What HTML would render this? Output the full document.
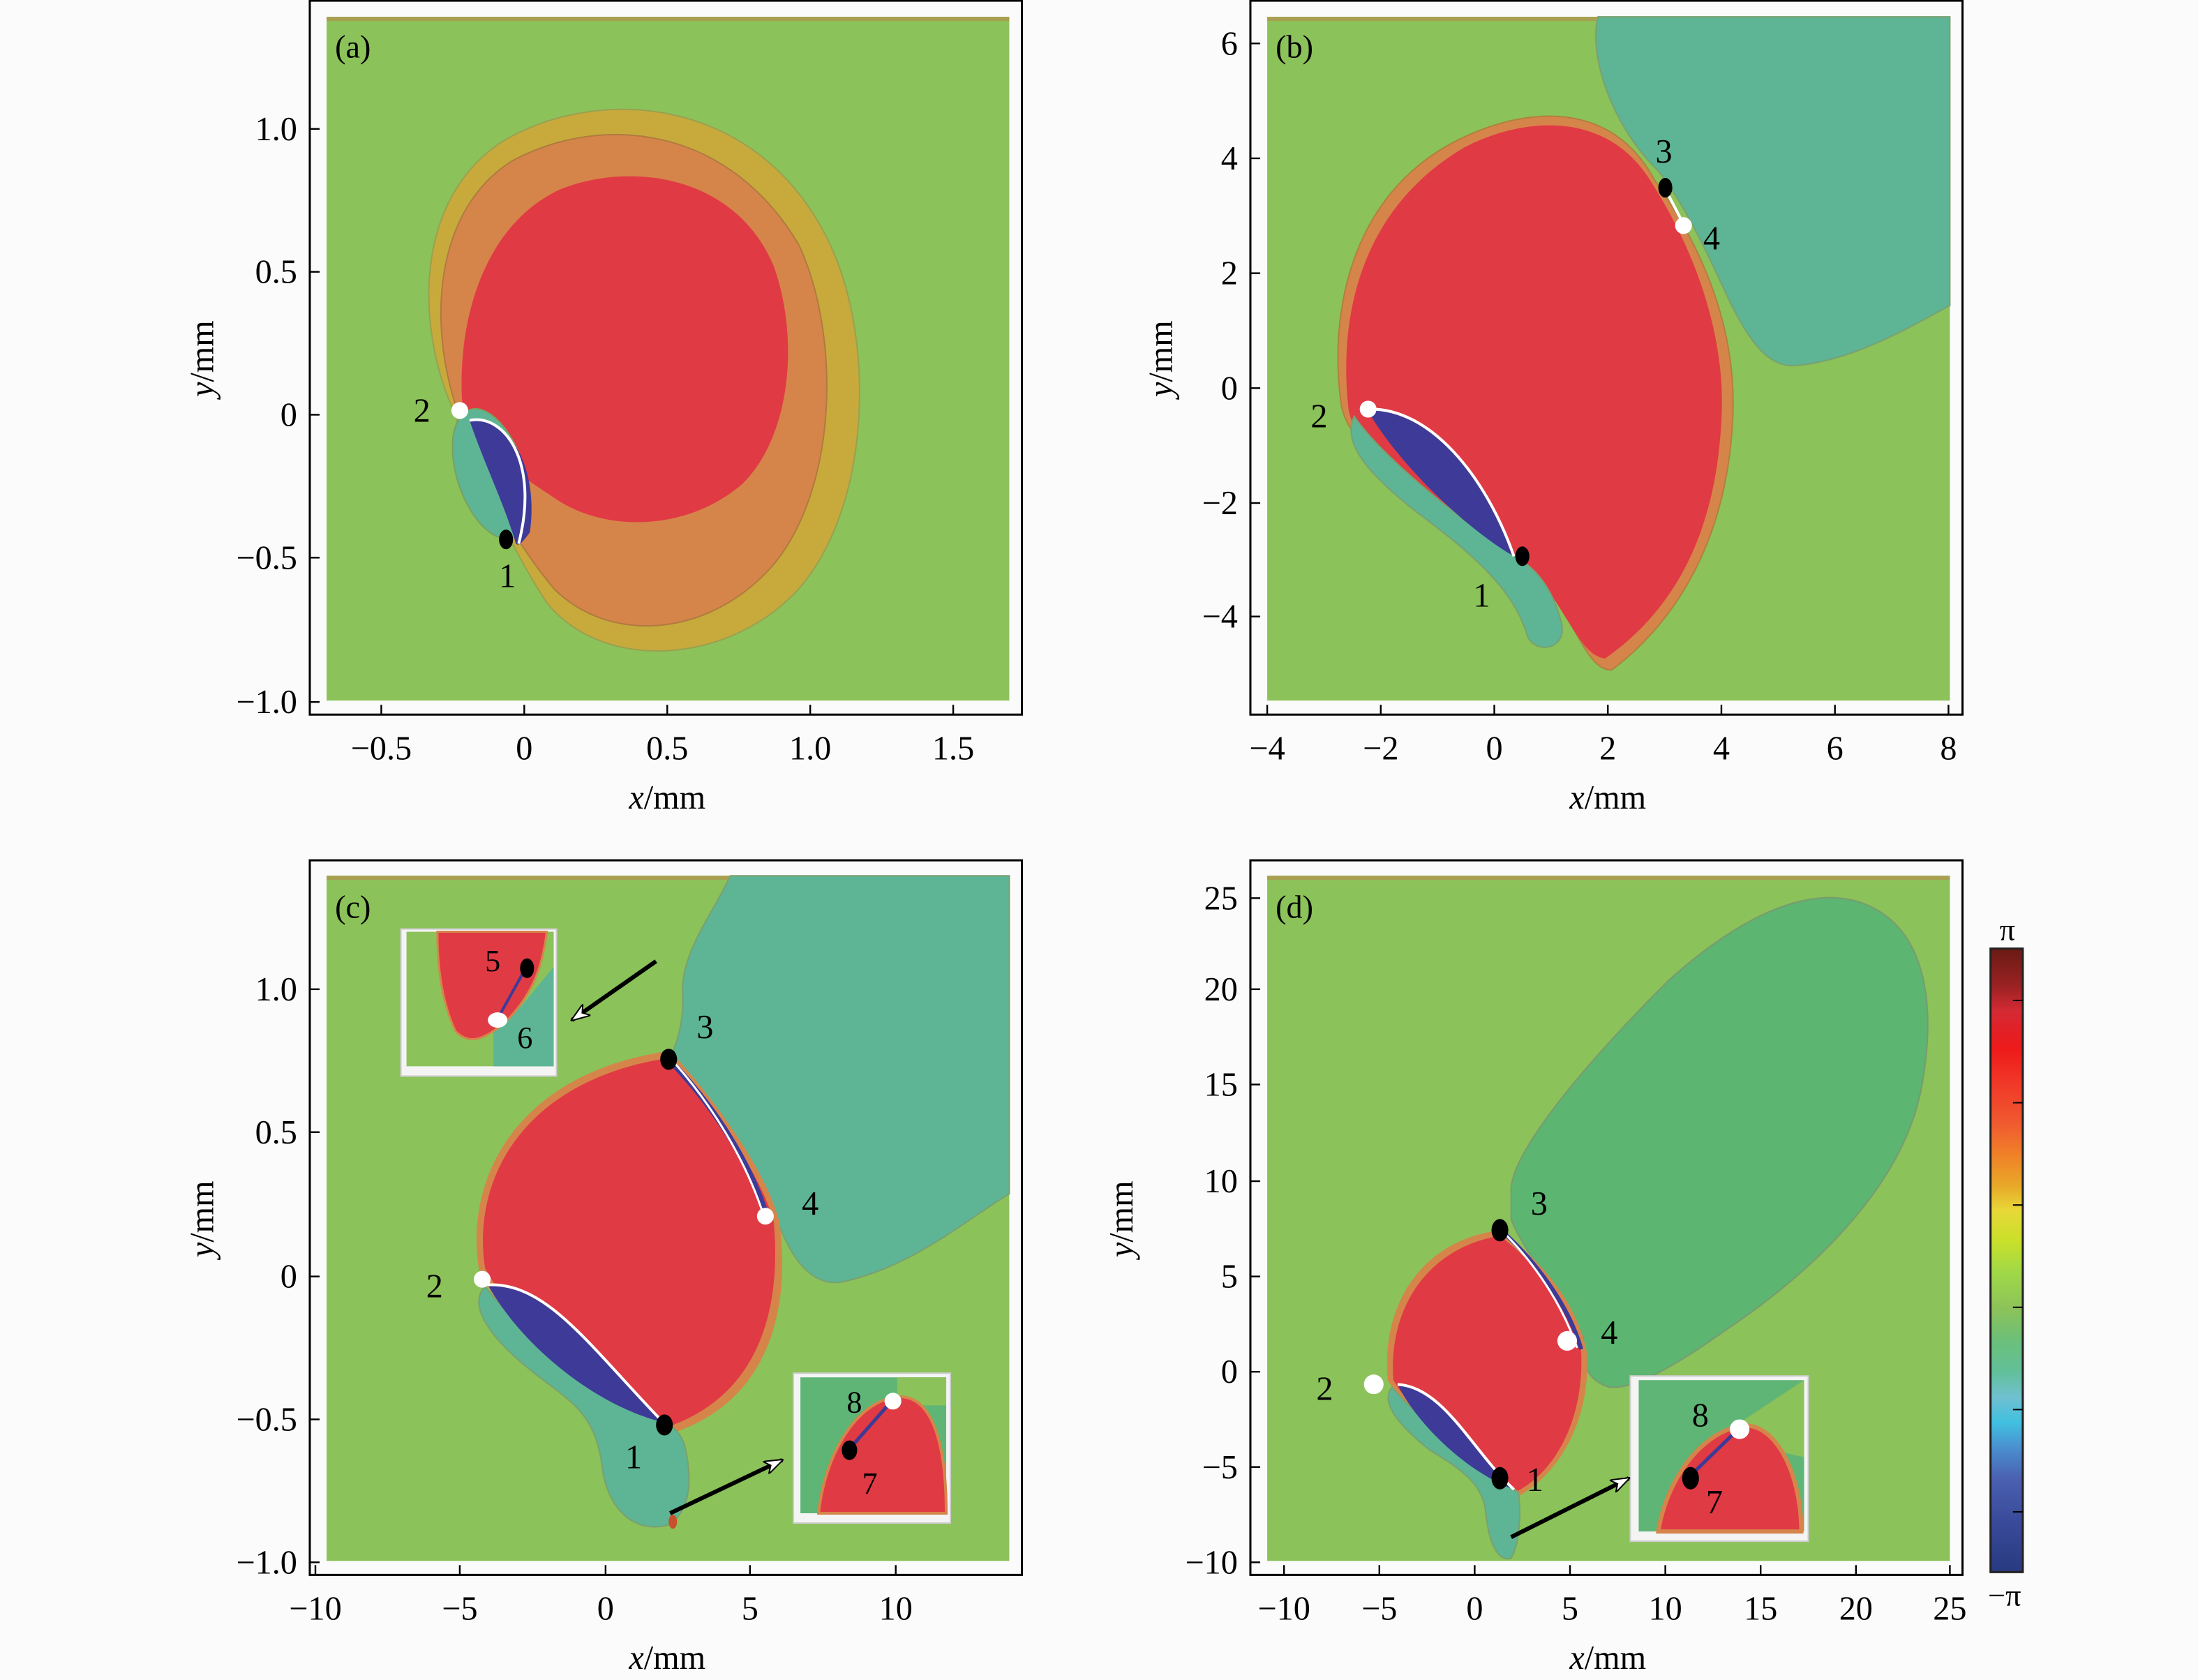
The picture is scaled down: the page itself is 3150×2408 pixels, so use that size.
<!DOCTYPE html>
<html><head><meta charset="utf-8"><style>html,body{margin:0;padding:0;background:#fff}svg{display:block}</style></head>
<body>
<svg width="3150" height="2408" viewBox="0 0 1568 1199" preserveAspectRatio="none" xmlns="http://www.w3.org/2000/svg" font-family="'Liberation Serif', serif">
<rect width="1568" height="1199" fill="#fbfbfb"/>
<defs>
<marker id="ah" markerWidth="14" markerHeight="10" refX="13" refY="5" orient="auto" markerUnits="userSpaceOnUse"><path d="M0,0 L14,5 L0,10 L4,5 Z" fill="#fff" stroke="#000" stroke-width="1"/></marker>
</defs>

<!-- ===== Panel (a) ===== -->
<rect x="233" y="12" width="487" height="488" fill="#8bc25a"/>
<rect x="233" y="12" width="487" height="3" fill="#a8a050"/>
<path d="M323,292 C296,230 296,140 360,100 C430,60 540,70 590,170 C625,240 622,360 570,420 C520,475 430,480 390,430 C370,400 340,340 323,292 Z" fill="#c8aa3c" stroke="#9aa050" stroke-width="1"/>
<path d="M326,292 C305,230 310,150 365,115 C430,80 520,90 570,175 C600,240 598,350 550,405 C505,455 435,460 395,420 C370,390 340,340 326,292 Z" fill="#d6854a" stroke="#b07a40" stroke-width="1"/>
<path d="M330,292 C325,230 345,160 400,135 C450,115 525,125 552,190 C570,240 565,310 530,345 C490,380 430,380 395,355 C365,335 340,320 330,292 Z" fill="#e03a44"/>
<ellipse cx="350" cy="338" rx="24" ry="48" transform="rotate(-18 350 338)" fill="#5db595" stroke="#7aa060" stroke-width="1"/>
<path d="M335,300 C360,295 385,330 378,380 C372,388 370,390 368,388 C360,360 345,330 335,300 Z" fill="#3d3a98"/>
<path d="M335,300 C360,295 385,330 370,388" fill="none" stroke="#fff" stroke-width="2"/>
<circle cx="328" cy="293" r="6" fill="#fff"/>
<ellipse cx="361" cy="385" rx="5" ry="7" fill="#000"/>
<text x="295" y="301" font-size="24">2</text>
<text x="356" y="419" font-size="24">1</text>
<text x="239" y="41" font-size="23">(a)</text>
<rect x="221" y="0.5" width="508" height="509.5" fill="none" stroke="#000" stroke-width="1.5"/>
<g stroke="#000" stroke-width="1.2">
<line x1="272" y1="510" x2="272" y2="503"/><line x1="374" y1="510" x2="374" y2="503"/><line x1="476" y1="510" x2="476" y2="503"/><line x1="578" y1="510" x2="578" y2="503"/><line x1="680" y1="510" x2="680" y2="503"/>
<line x1="221" y1="92" x2="228" y2="92"/><line x1="221" y1="194" x2="228" y2="194"/><line x1="221" y1="296" x2="228" y2="296"/><line x1="221" y1="398" x2="228" y2="398"/><line x1="221" y1="501" x2="228" y2="501"/>
</g>
<g font-size="24" text-anchor="middle">
<text x="272" y="542">−0.5</text><text x="374" y="542">0</text><text x="476" y="542">0.5</text><text x="578" y="542">1.0</text><text x="680" y="542">1.5</text>
<text x="476" y="577"><tspan font-style="italic">x</tspan>/mm</text>
</g>
<g font-size="24" text-anchor="end">
<text x="212" y="100">1.0</text><text x="212" y="202">0.5</text><text x="212" y="304">0</text><text x="212" y="406">−0.5</text><text x="212" y="509">−1.0</text>
</g>
<text transform="translate(152 256) rotate(-90)" font-size="24" text-anchor="middle"><tspan font-style="italic">y</tspan>/mm</text>

<!-- ===== Panel (b) ===== -->
<rect x="904" y="12" width="487" height="488" fill="#8bc25a"/>
<rect x="904" y="12" width="487" height="3" fill="#a8a050"/>
<path d="M1140,12 C1133,40 1150,90 1183,122 C1205,150 1222,190 1232,211 C1248,245 1262,262 1280,261 C1320,258 1360,235 1391,218 L1391,12 Z" fill="#5db595" stroke="#7aa070" stroke-width="1"/>
<path d="M957,290 C948,230 960,140 1040,100 C1090,75 1150,72 1180,128 C1210,170 1240,230 1236,300 C1232,380 1200,440 1150,478 C1130,480 1120,430 1090,400 C1040,370 965,330 957,290 Z" fill="#d6854a" stroke="#b08040" stroke-width="1"/>
<path d="M962,292 C955,230 968,150 1045,105 C1090,82 1148,80 1178,130 C1205,172 1232,235 1228,300 C1224,380 1195,435 1145,470 C1125,468 1115,425 1085,400 C1040,370 968,330 962,292 Z" fill="#e03a44"/>
<path d="M966,297 C958,315 972,335 1010,365 C1050,395 1080,420 1090,455 C1098,468 1118,462 1114,445 C1108,420 1095,405 1082,398 C1040,370 985,325 966,297 Z" fill="#5db595" stroke="#7aa070" stroke-width="1"/>
<path d="M975,292 C1020,290 1060,340 1080,397 C1050,380 1000,335 975,292 Z" fill="#3d3a98"/>
<path d="M975,292 C1020,290 1060,340 1080,397" fill="none" stroke="#fff" stroke-width="2"/>
<line x1="1188" y1="135" x2="1201" y2="160" stroke="#fff" stroke-width="2"/>
<circle cx="976" cy="292" r="6" fill="#fff"/>
<ellipse cx="1086" cy="397" rx="5" ry="7" fill="#000"/>
<ellipse cx="1188" cy="134" rx="5" ry="7" fill="#000"/>
<circle cx="1201" cy="161" r="6" fill="#fff"/>
<text x="935" y="305" font-size="24">2</text>
<text x="1051" y="433" font-size="24">1</text>
<text x="1181" y="116" font-size="24">3</text>
<text x="1215" y="178" font-size="24">4</text>
<text x="910" y="41" font-size="23">(b)</text>
<rect x="892" y="0.5" width="508" height="509.5" fill="none" stroke="#000" stroke-width="1.5"/>
<g stroke="#000" stroke-width="1.2">
<line x1="904" y1="510" x2="904" y2="503"/><line x1="985" y1="510" x2="985" y2="503"/><line x1="1066" y1="510" x2="1066" y2="503"/><line x1="1147" y1="510" x2="1147" y2="503"/><line x1="1228" y1="510" x2="1228" y2="503"/><line x1="1309" y1="510" x2="1309" y2="503"/><line x1="1390" y1="510" x2="1390" y2="503"/>
<line x1="892" y1="31" x2="899" y2="31"/><line x1="892" y1="113" x2="899" y2="113"/><line x1="892" y1="195" x2="899" y2="195"/><line x1="892" y1="277" x2="899" y2="277"/><line x1="892" y1="359" x2="899" y2="359"/><line x1="892" y1="440" x2="899" y2="440"/>
</g>
<g font-size="24" text-anchor="middle">
<text x="904" y="542">−4</text><text x="985" y="542">−2</text><text x="1066" y="542">0</text><text x="1147" y="542">2</text><text x="1228" y="542">4</text><text x="1309" y="542">6</text><text x="1390" y="542">8</text>
<text x="1147" y="577"><tspan font-style="italic">x</tspan>/mm</text>
</g>
<g font-size="24" text-anchor="end">
<text x="883" y="39">6</text><text x="883" y="121">4</text><text x="883" y="203">2</text><text x="883" y="285">0</text><text x="883" y="367">−2</text><text x="883" y="448">−4</text>
</g>
<text transform="translate(836 256) rotate(-90)" font-size="24" text-anchor="middle"><tspan font-style="italic">y</tspan>/mm</text>

<!-- ===== Panel (c) ===== -->
<rect x="233" y="625" width="487" height="489" fill="#8bc25a"/>
<rect x="233" y="625" width="487" height="3" fill="#a8a050"/>
<path d="M521,625 C510,650 485,680 487,710 C488,735 480,750 478,755 C510,790 545,840 555,872 C565,900 580,918 600,915 C650,905 690,870 720,852 L720,625 Z" fill="#5db595" stroke="#7aa070" stroke-width="1"/>
<path d="M342,908 C330,840 370,765 478,750 C515,790 548,840 556,872 C565,940 545,1000 482,1022 C430,1005 370,960 342,908 Z" fill="#d6854a"/>
<path d="M346,905 C336,840 375,770 478,755 C515,795 545,845 552,872 C558,940 538,995 480,1017 C430,1000 375,958 346,905 Z" fill="#e03a44"/>
<path d="M346,918 C335,930 345,950 375,975 C405,1000 425,1005 430,1050 C435,1080 455,1095 478,1088 C495,1075 493,1050 488,1030 C484,1020 478,1017 470,1012 C420,990 370,950 346,918 Z" fill="#5db595" stroke="#7aa070" stroke-width="1"/>
<path d="M348,917 C390,915 420,960 473,1015 C430,1005 375,965 348,917 Z" fill="#3d3a98"/>
<path d="M348,917 C390,915 420,960 473,1015" fill="none" stroke="#fff" stroke-width="2"/>
<path d="M478,757 C510,790 535,830 547,868" fill="none" stroke="#3d3a98" stroke-width="4"/>
<path d="M478,755 C508,788 532,828 545,868" fill="none" stroke="#fff" stroke-width="1.5"/>
<circle cx="344" cy="913" r="6" fill="#fff"/>
<ellipse cx="474" cy="1017" rx="6" ry="7.5" fill="#000"/>
<ellipse cx="477" cy="756" rx="6" ry="7.5" fill="#000"/>
<circle cx="546" cy="868" r="6" fill="#fff"/>
<ellipse cx="480" cy="1086" rx="3" ry="5" fill="#c8502a"/>
<text x="304" y="926" font-size="24">2</text>
<text x="446" y="1048" font-size="24">1</text>
<text x="497" y="741" font-size="24">3</text>
<text x="572" y="867" font-size="24">4</text>
<text x="239" y="655" font-size="23">(c)</text>
<!-- inset upper -->
<rect x="286" y="663" width="111" height="105" fill="#f4f4f4"/>
<rect x="290" y="665" width="105" height="96" fill="#8bc25a"/>
<path d="M395,690 L372,718 L352,730 L352,761 L395,761 Z" fill="#5db595"/>
<path d="M312,665 L390,665 C387,690 380,710 360,730 C345,742 335,746 325,736 C315,715 312,690 312,665 Z" fill="#e03a44" stroke="#d6854a" stroke-width="1.5"/>
<line x1="355" y1="727" x2="375" y2="691" stroke="#3d3a98" stroke-width="2"/>
<ellipse cx="376" cy="691" rx="5" ry="7" fill="#000"/>
<ellipse cx="355" cy="728" rx="7" ry="5.5" fill="#fff"/>
<text x="346" y="693" font-size="22">5</text>
<text x="369" y="748" font-size="22">6</text>
<rect x="286" y="663" width="111" height="105" fill="none" stroke="#ccc" stroke-width="1"/>
<line x1="468" y1="686" x2="408" y2="728" stroke="#000" stroke-width="3" marker-end="url(#ah)"/>
<!-- inset lower -->
<rect x="566" y="980" width="112" height="107" fill="#f4f4f4"/>
<rect x="571" y="983" width="104" height="97" fill="#5fb575"/>
<rect x="640" y="983" width="35" height="20" fill="#8bc25a"/>
<path d="M584,1080 C588,1040 610,1000 640,997 C665,995 675,1030 675,1080 Z" fill="#e03a44" stroke="#d6854a" stroke-width="2"/>
<line x1="606" y1="1034" x2="636" y2="1000" stroke="#3d3a98" stroke-width="2.5"/>
<ellipse cx="606" cy="1035" rx="5.5" ry="7" fill="#000"/>
<ellipse cx="637" cy="1000" rx="6" ry="6" fill="#fff"/>
<text x="604" y="1008" font-size="22">8</text>
<text x="615" y="1066" font-size="22">7</text>
<rect x="566" y="980" width="112" height="107" fill="none" stroke="#ccc" stroke-width="1"/>
<line x1="478" y1="1080" x2="558" y2="1042" stroke="#000" stroke-width="3" marker-end="url(#ah)"/>
<rect x="221" y="614" width="508" height="510" fill="none" stroke="#000" stroke-width="1.5"/>
<g stroke="#000" stroke-width="1.2">
<line x1="225" y1="1124" x2="225" y2="1117"/><line x1="328" y1="1124" x2="328" y2="1117"/><line x1="432" y1="1124" x2="432" y2="1117"/><line x1="535" y1="1124" x2="535" y2="1117"/><line x1="639" y1="1124" x2="639" y2="1117"/>
<line x1="221" y1="706" x2="228" y2="706"/><line x1="221" y1="808" x2="228" y2="808"/><line x1="221" y1="911" x2="228" y2="911"/><line x1="221" y1="1013" x2="228" y2="1013"/><line x1="221" y1="1115" x2="228" y2="1115"/>
</g>
<g font-size="24" text-anchor="middle">
<text x="225" y="1156">−10</text><text x="328" y="1156">−5</text><text x="432" y="1156">0</text><text x="535" y="1156">5</text><text x="639" y="1156">10</text>
<text x="476" y="1191"><tspan font-style="italic">x</tspan>/mm</text>
</g>
<g font-size="24" text-anchor="end">
<text x="212" y="714">1.0</text><text x="212" y="816">0.5</text><text x="212" y="919">0</text><text x="212" y="1021">−0.5</text><text x="212" y="1123">−1.0</text>
</g>
<text transform="translate(152 870) rotate(-90)" font-size="24" text-anchor="middle"><tspan font-style="italic">y</tspan>/mm</text>

<!-- ===== Panel (d) ===== -->
<rect x="904" y="625" width="487" height="489" fill="#8bc25a"/>
<rect x="904" y="625" width="487" height="3" fill="#a8a050"/>
<path d="M1078,848 C1080,820 1130,760 1190,700 C1240,655 1290,630 1330,645 C1380,665 1380,730 1370,780 C1355,850 1290,910 1230,950 C1195,975 1165,992 1148,990 C1130,985 1125,965 1130,955 C1110,920 1085,890 1078,870 Z" fill="#5cb570" stroke="#7a9a70" stroke-width="1"/>
<path d="M990,985 C985,930 1015,885 1070,878 C1100,900 1125,930 1132,965 C1135,1010 1115,1050 1083,1068 C1050,1045 1005,1010 990,985 Z" fill="#d6854a"/>
<path d="M994,985 C990,932 1020,890 1070,882 C1100,905 1122,935 1128,965 C1130,1010 1112,1048 1083,1064 C1050,1042 1008,1010 994,985 Z" fill="#e03a44"/>
<path d="M993,990 C985,1000 995,1015 1020,1035 C1045,1050 1058,1060 1060,1080 C1062,1100 1068,1115 1078,1112 C1085,1100 1085,1075 1083,1065 C1050,1045 1010,1010 993,990 Z" fill="#5db595" stroke="#7aa070" stroke-width="1"/>
<path d="M997,988 C1030,990 1050,1035 1080,1063 C1045,1050 1010,1015 997,988 Z" fill="#3d3a98"/>
<path d="M997,988 C1030,990 1050,1035 1080,1063" fill="none" stroke="#fff" stroke-width="2"/>
<path d="M1073,880 C1100,905 1120,935 1128,963" fill="none" stroke="#3d3a98" stroke-width="3"/>
<path d="M1073,880 C1098,905 1116,935 1125,962" fill="none" stroke="#fff" stroke-width="1.5"/>
<ellipse cx="1070" cy="878" rx="6" ry="8" fill="#000"/>
<circle cx="1118" cy="957" r="7" fill="#fff"/>
<circle cx="980" cy="988" r="7" fill="#fff"/>
<ellipse cx="1070" cy="1055" rx="6" ry="8" fill="#000"/>
<text x="939" y="999" font-size="24">2</text>
<text x="1089" y="1064" font-size="24">1</text>
<text x="1092" y="867" font-size="24">3</text>
<text x="1142" y="959" font-size="24">4</text>
<text x="910" y="655" font-size="23">(d)</text>
<!-- inset d -->
<rect x="1163" y="982" width="127" height="118" fill="#f4f4f4"/>
<rect x="1169" y="985" width="118" height="108" fill="#5fb575"/>
<path d="M1225,1026 L1287,985 L1287,1040 Z" fill="#8bc25a"/>
<path d="M1183,1093 C1188,1060 1210,1025 1240,1018 C1265,1012 1285,1050 1285,1093 Z" fill="#e03a44" stroke="#d6854a" stroke-width="3"/>
<line x1="1206" y1="1053" x2="1240" y2="1020" stroke="#3d3a98" stroke-width="2.5"/>
<ellipse cx="1206" cy="1055" rx="6" ry="8" fill="#000"/>
<circle cx="1241" cy="1020" r="7" fill="#fff"/>
<text x="1207" y="1018" font-size="24">8</text>
<text x="1217" y="1080" font-size="24">7</text>
<rect x="1163" y="982" width="127" height="118" fill="none" stroke="#ccc" stroke-width="1"/>
<line x1="1078" y1="1097" x2="1162" y2="1055" stroke="#000" stroke-width="3" marker-end="url(#ah)"/>
<rect x="892" y="614" width="508" height="510" fill="none" stroke="#000" stroke-width="1.5"/>
<g stroke="#000" stroke-width="1.2">
<line x1="916" y1="1124" x2="916" y2="1117"/><line x1="984" y1="1124" x2="984" y2="1117"/><line x1="1052" y1="1124" x2="1052" y2="1117"/><line x1="1120" y1="1124" x2="1120" y2="1117"/><line x1="1188" y1="1124" x2="1188" y2="1117"/><line x1="1256" y1="1124" x2="1256" y2="1117"/><line x1="1324" y1="1124" x2="1324" y2="1117"/><line x1="1391" y1="1124" x2="1391" y2="1117"/>
<line x1="892" y1="641" x2="899" y2="641"/><line x1="892" y1="706" x2="899" y2="706"/><line x1="892" y1="774" x2="899" y2="774"/><line x1="892" y1="843" x2="899" y2="843"/><line x1="892" y1="911" x2="899" y2="911"/><line x1="892" y1="979" x2="899" y2="979"/><line x1="892" y1="1047" x2="899" y2="1047"/><line x1="892" y1="1115" x2="899" y2="1115"/>
</g>
<g font-size="24" text-anchor="middle">
<text x="916" y="1156">−10</text><text x="984" y="1156">−5</text><text x="1052" y="1156">0</text><text x="1120" y="1156">5</text><text x="1188" y="1156">10</text><text x="1256" y="1156">15</text><text x="1324" y="1156">20</text><text x="1391" y="1156">25</text>
<text x="1147" y="1191"><tspan font-style="italic">x</tspan>/mm</text>
</g>
<g font-size="24" text-anchor="end">
<text x="883" y="649">25</text><text x="883" y="714">20</text><text x="883" y="782">15</text><text x="883" y="851">10</text><text x="883" y="919">5</text><text x="883" y="987">0</text><text x="883" y="1055">−5</text><text x="883" y="1123">−10</text>
</g>
<text transform="translate(808 870) rotate(-90)" font-size="24" text-anchor="middle"><tspan font-style="italic">y</tspan>/mm</text>

<!-- ===== Colorbar ===== -->
<defs>
<linearGradient id="cb" x1="0" y1="0" x2="0" y2="1">
<stop offset="0" stop-color="#6a1a14"/>
<stop offset="0.06" stop-color="#9a2222"/>
<stop offset="0.1" stop-color="#d42a34"/>
<stop offset="0.16" stop-color="#ee1a1a"/>
<stop offset="0.22" stop-color="#f03a28"/>
<stop offset="0.28" stop-color="#f05a30"/>
<stop offset="0.33" stop-color="#f08028"/>
<stop offset="0.38" stop-color="#e8a828"/>
<stop offset="0.42" stop-color="#e8d838"/>
<stop offset="0.47" stop-color="#c8e02a"/>
<stop offset="0.52" stop-color="#a0d848"/>
<stop offset="0.58" stop-color="#8bc25a"/>
<stop offset="0.63" stop-color="#6ac07a"/>
<stop offset="0.68" stop-color="#62c09a"/>
<stop offset="0.72" stop-color="#70c0d0"/>
<stop offset="0.76" stop-color="#40c0e0"/>
<stop offset="0.8" stop-color="#4a90d0"/>
<stop offset="0.85" stop-color="#4a60b0"/>
<stop offset="0.92" stop-color="#3a4a9a"/>
<stop offset="1" stop-color="#283a80"/>
</linearGradient>
</defs>
<rect x="1420" y="677" width="23" height="445" fill="url(#cb)" stroke="#222" stroke-width="1.5"/>
<g stroke="#000" stroke-width="1">
<line x1="1436" y1="714" x2="1443" y2="714"/><line x1="1436" y1="787" x2="1443" y2="787"/><line x1="1436" y1="860" x2="1443" y2="860"/><line x1="1436" y1="933" x2="1443" y2="933"/><line x1="1436" y1="1006" x2="1443" y2="1006"/><line x1="1436" y1="1079" x2="1443" y2="1079"/>
</g>
<text x="1432" y="671" font-size="22" text-anchor="middle">π</text>
<text x="1430" y="1146" font-size="22" text-anchor="middle">−π</text>
</svg>
</body></html>
